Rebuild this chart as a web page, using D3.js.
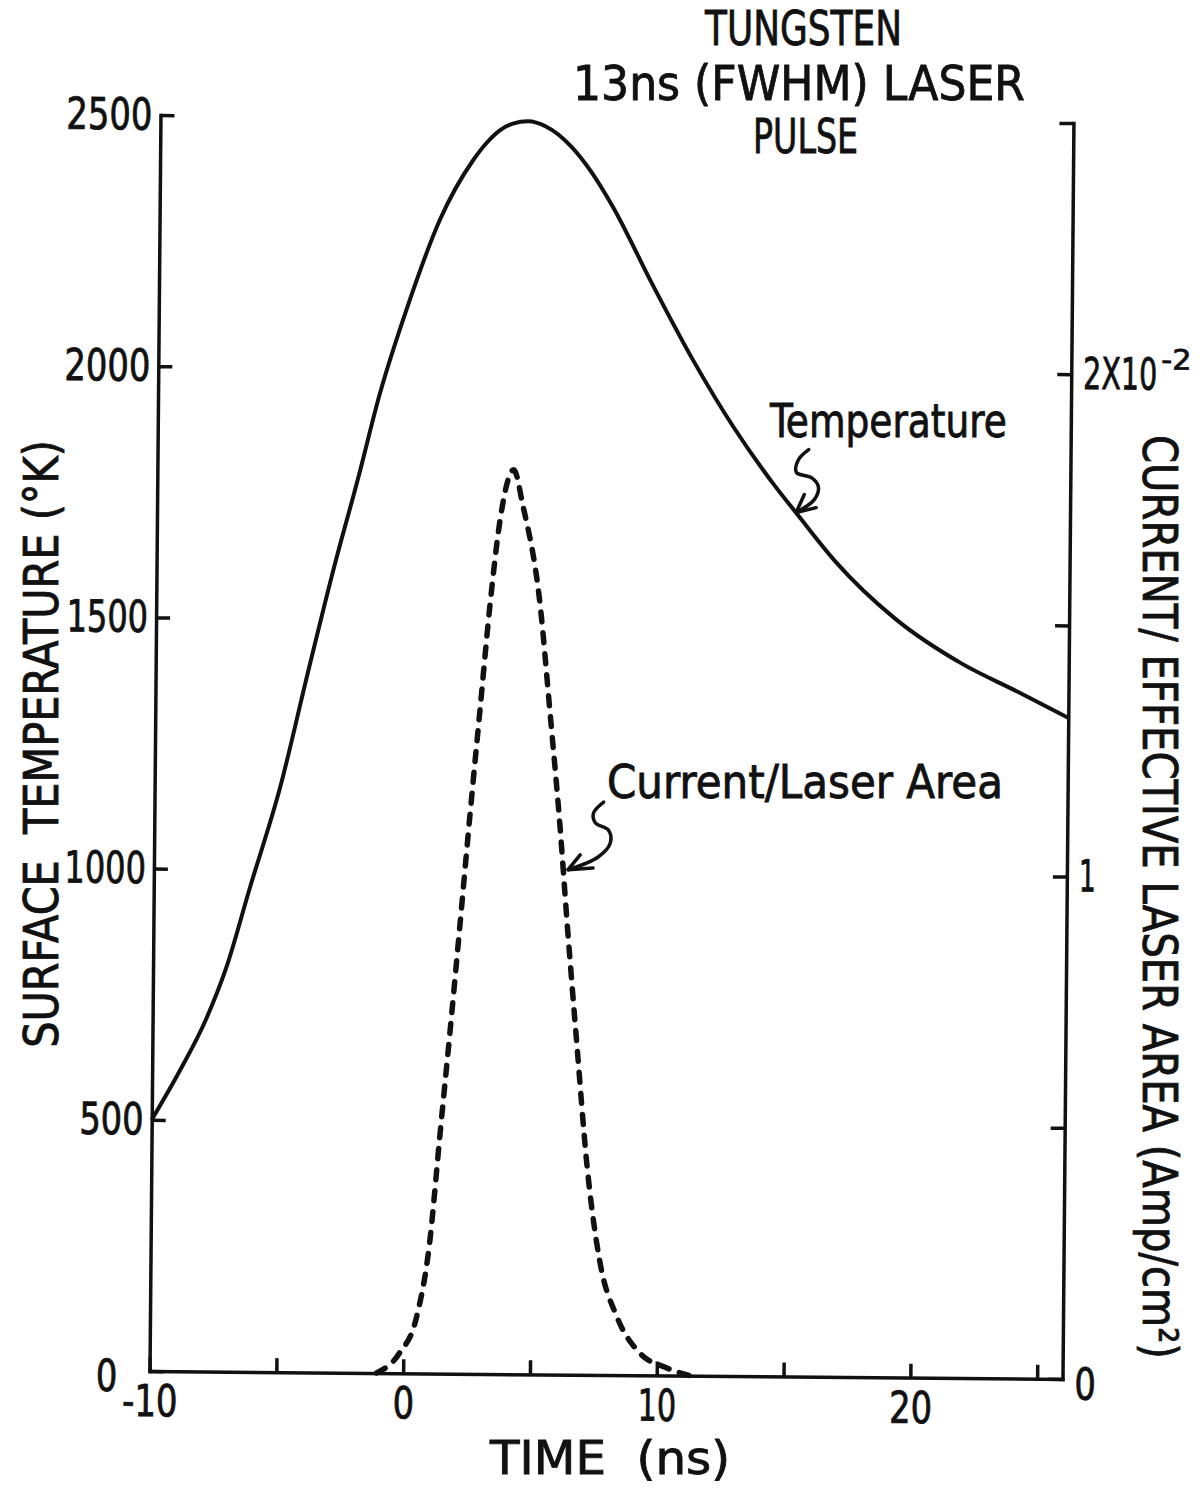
<!DOCTYPE html>
<html>
<head>
<meta charset="utf-8">
<script src="https://cdn.jsdelivr.net/npm/d3@7"></script>
<style>
  body { margin: 0; background: #fff; }
  text {
    font-family: 'Liberation Sans Narrow', 'DejaVu Sans Condensed', 'Liberation Sans', sans-serif;
    fill: #111; stroke: #111; stroke-width: 0.8px;
  }
</style>
</head>
<body>
<svg id="chart" width="1203" height="1499"></svg>
<script>
// Axis ticks and labels
const timeTicks = [-10, -5, 0, 5, 10, 15, 20, 25];
const timeLabels = ["-10", "", "0", "", "10", "", "20", ""];
const tempTicks = [0, 500, 1000, 1500, 2000, 2500];
const currentTicks = [0, 0.5, 1, 1.5, 2, 2.5];           // units of 10^-2 Amp/cm^2
const currentLabels = ["0", "", "1", "", "2X10", ""];
const currentExponent = "-2";

// Surface temperature (K) vs time (ns)
const tempTime  = [-10, -8.9, -7.9, -7.1, -6.2, -5.05, -4.0, -3.0, -2.1, -1.25, -0.2, 1.05, 2.35, 2.9, 3.4, 3.9, 4.5, 5.2, 6.2, 7.0, 7.85, 9.45, 11.1, 12.7, 14.3, 15.3, 16.75, 19.15, 21.75, 24.0, 26.0];
const tempValue = [500, 599, 700, 806, 965, 1164, 1392, 1603, 1777, 1950, 2122, 2296, 2416, 2452, 2476, 2489, 2494, 2484, 2445, 2395, 2327, 2172, 2020, 1889, 1776, 1713, 1624, 1510, 1423, 1367, 1316];

// Current / effective laser area (10^-2 Amp/cm^2) vs time (ns)
const currentTime  = [-1.05, -0.15, 0.5, 1.0, 1.37, 1.73, 2.09, 2.44, 2.8, 3.16, 3.53, 4.05, 4.42, 5.13, 5.56, 6.0, 6.31, 6.74, 7.18, 7.72, 8.41, 9.33, 10.4, 11.3];
const currentValue = [0, 0.04, 0.11, 0.26, 0.475, 0.68, 0.895, 1.11, 1.32, 1.53, 1.70, 1.80, 1.73, 1.535, 1.32, 1.09, 0.9, 0.656, 0.416, 0.225, 0.116, 0.044, 0.015, 0];

// Annotation arrow tips, in data units
const tempArrowTip = [15.2, 1720];
const currentArrowTip = [6.33, 1.005];

const svg = d3.select("#chart");
svg.append("rect").attr("width", 1203).attr("height", 1499).attr("fill", "#fff");

const plot = svg.append("g").attr("transform", "rotate(0.5,610,745)");

const x = d3.scaleLinear().domain([-10, 26]).range([155, 1068]);
const yT = d3.scaleLinear().domain([0, 2500]).range([1375, 119]);
const yC = d3.scaleLinear().domain([0, 2.5]).range([1375, 119]);

const ink = "#111";

// Width of hand-lettered numerals
function numeralWidth(s) {
  let w = 0;
  for (const c of s) w += (c === "1" || c === "-") ? 17 : 21.5;
  return w;
}

// Squeeze a text element horizontally to a given width, keeping its anchor x
function squeeze(textNode, width) {
  const natural = textNode.getComputedTextLength();
  if (!natural) return;
  const k = width / natural;
  const sel = d3.select(textNode);
  const x0 = +sel.attr("x") || 0;
  sel.attr("x", x0 / k).attr("transform", `scale(${k},1)`);
}

function styleAxis(g, size) {
  g.attr("font-size", size).attr("font-family", null);
  g.select(".domain").attr("stroke", ink).attr("stroke-width", 3.5).attr("stroke-linecap", "square");
  g.selectAll(".tick line").attr("stroke", ink).attr("stroke-width", 3.5);
}
function squeezeTicks(g) {
  g.selectAll(".tick text").each(function () {
    const s = this.textContent;
    if (s) squeeze(this, numeralWidth(s));
  });
}

// Left axis: surface temperature
const axL = plot.append("g")
  .attr("transform", `translate(${x.range()[0]},0)`)
  .call(d3.axisLeft(yT).tickValues(tempTicks).tickFormat(d3.format("d"))
    .tickSizeInner(-14).tickSizeOuter(0).tickPadding(8));
styleAxis(axL, 44);
axL.selectAll(".tick text").filter(d => d === 0).attr("x", -32).attr("dy", "0.45em");
squeezeTicks(axL);

// Right axis: current density
const axR = plot.append("g")
  .attr("transform", `translate(${x.range()[1]},0)`)
  .call(d3.axisRight(yC).tickValues(currentTicks).tickFormat((d, i) => currentLabels[i])
    .tickSizeInner(-14).tickSizeOuter(0).tickPadding(12));
styleAxis(axR, 44);
axR.selectAll(".tick text").filter(d => d === 0).attr("dy", "0.45em");
axR.selectAll(".tick text").filter(d => d === 2).each(function () { squeeze(this, 74); });
axR.selectAll(".tick text").filter(d => d !== 2).each(function () {
  if (this.textContent) squeeze(this, numeralWidth(this.textContent));
});
// exponent of the 2x10^-2 label
axR.selectAll(".tick").filter(d => d === 2)
  .append("text")
  .attr("x", 12 + 74 + 4).attr("y", -6)
  .attr("font-size", 28).attr("fill", ink)
  .text(currentExponent)
  .each(function () { squeeze(this, 30); });

// Bottom axis: time
const axB = plot.append("g")
  .attr("transform", `translate(0,${yT.range()[0]})`)
  .call(d3.axisBottom(x).tickValues(timeTicks).tickFormat((d, i) => timeLabels[i])
    .tickSizeInner(-14).tickSizeOuter(0).tickPadding(14));
styleAxis(axB, 44);
squeezeTicks(axB);

// Curves
const tempLine = d3.line().x(d => x(d[0])).y(d => yT(d[1])).curve(d3.curveMonotoneX);
plot.append("path")
  .datum(d3.zip(tempTime, tempValue))
  .attr("d", tempLine)
  .attr("fill", "none").attr("stroke", ink).attr("stroke-width", 4)
  .attr("stroke-linejoin", "round");

const currentLine = d3.line().x(d => x(d[0])).y(d => yC(d[1])).curve(d3.curveMonotoneX);
plot.append("path")
  .datum(d3.zip(currentTime, currentValue))
  .attr("d", currentLine)
  .attr("fill", "none").attr("stroke", ink).attr("stroke-width", 5.5)
  .attr("stroke-dasharray", "10 11").attr("stroke-linecap", "round");

// Squiggly label arrows, drawn relative to their tips
const squiggle = d3.line().curve(d3.curveCatmullRom.alpha(0.5));
function arrow(tip, shaft, head) {
  const g = plot.append("g").attr("transform", `translate(${tip[0]},${tip[1]})`)
    .attr("fill", "none").attr("stroke", ink).attr("stroke-width", 3.5)
    .attr("stroke-linecap", "round").attr("stroke-linejoin", "round");
  g.append("path").attr("d", squiggle(shaft));
  g.append("path").attr("d", d3.line()([head[0], [0, 0], head[1]]));
}
arrow([x(tempArrowTip[0]), yT(tempArrowTip[1])],
  [[12, -63], [2, -53], [0, -40], [15, -35], [22, -26], [18, -13], [0, 0]],
  [[8, -18], [20, -5]]);
arrow([x(currentArrowTip[0]), yC(currentArrowTip[1])],
  [[35, -68], [25, -57], [27, -47], [40, -40], [42, -27], [30, -13], [0, 0]],
  [[12, -15], [25, -2]]);

// Text helper: lettering is squeezed or stretched along its baseline to a set length
function label(str, px, py, size, len, anchor, rot) {
  const t = svg.append("text")
    .attr("font-size", size)
    .attr("text-anchor", anchor || "start")
    .style("white-space", "pre")
    .text(str);
  const natural = t.node().getComputedTextLength();
  const k = len && natural ? len / natural : 1;
  t.attr("transform", `translate(${px},${py})` + (rot ? ` rotate(${rot})` : "") + ` scale(${k},1)`);
  return t;
}

// Title
label("TUNGSTEN", 803.5, 45, 48, 197, "middle");
label("13ns (FWHM) LASER", 799, 100, 48, 452, "middle");
label("PULSE", 805.5, 153, 48, 105, "middle");

// Axis titles
label("TIME  (ns)", 610, 1474, 46, 240, "middle");
label("SURFACE  TEMPERATURE (°K)", 58, 744, 48, 608, "middle", -90);
label("CURRENT/ EFFECTIVE LASER AREA (Amp/cm²)", 1143, 897, 48, 924, "middle", 90);

// Curve labels
label("Temperature", 770, 437, 46, 237, "start");
label("Current/Laser Area", 607, 798, 46, 396, "start");
</script>
</body>
</html>
